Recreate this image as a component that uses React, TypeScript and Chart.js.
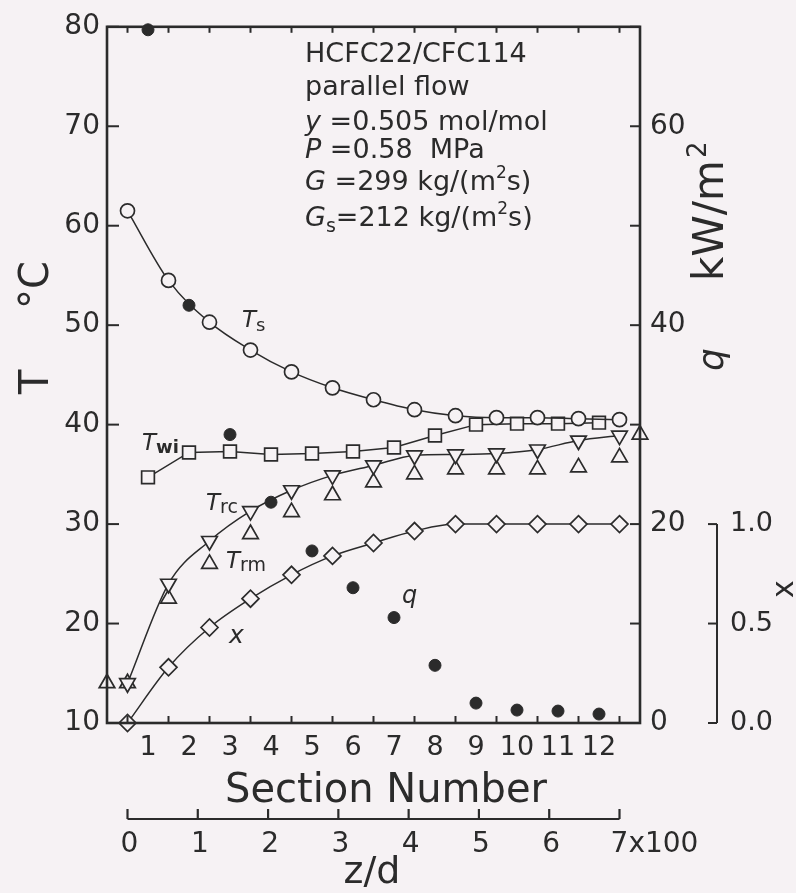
import React, { useEffect, useRef } from 'react';
import { Chart, registerables } from 'chart.js';

Chart.register(...registerables);

// ---------- data ----------
const sectionBoundaries = [0, 1, 2, 3, 4, 5, 6, 7, 8, 9, 10, 11, 12];
const sectionMidpoints = [0.5, 1.5, 2.5, 3.5, 4.5, 5.5, 6.5, 7.5, 8.5, 9.5, 10.5, 11.5];
const sectionLabels = ['1', '2', '3', '4', '5', '6', '7', '8', '9', '10', '11', '12'];
const trmPositions = [-0.5, 0, 1, 2, 3, 4, 5, 6, 7, 8, 9, 10, 11, 12, 12.5];

const tsValues = [61.5, 54.5, 50.3, 47.5, 45.3, 43.7, 42.5, 41.5, 40.9, 40.7, 40.7, 40.6, 40.5];
const twiValues = [34.7, 37.2, 37.3, 37.0, 37.1, 37.3, 37.7, 38.9, 40.0, 40.1, 40.1, 40.2];
const trcValues = [14.0, 24.0, 28.3, 31.3, 33.4, 34.9, 35.9, 36.9, 37.0, 37.1, 37.5, 38.4, 38.9];
const trmValues = [14.0, 14.0, 22.5, 26.0, 29.0, 31.2, 32.9, 34.2, 35.0, 35.5, 35.5, 35.5, 35.7, 36.7, 39.0];
const xValues = [0, 0.28, 0.48, 0.625, 0.745, 0.84, 0.905, 0.965, 1.0, 1.0, 1.0, 1.0, 1.0];
const qValues = [69.7, 42.0, 29.0, 22.2, 17.3, 13.6, 10.6, 5.8, 2.0, 1.3, 1.2, 0.9];

const tTicks = [10, 20, 30, 40, 50, 60, 70, 80];
const qTicks = [0, 10, 20, 30, 40, 50, 60, 70];
const qLabelled = [0, 20, 40, 60];
const xFracTicks = [0, 0.5, 1.0];
const xFracLabels = ['0.0', '0.5', '1.0'];
const zdTicks = [0, 100, 200, 300, 400, 500, 600, 700];
const zdLabels = ['0', '1', '2', '3', '4', '5', '6', '7x100'];
const zdMax = 700;
const sectionCount = 12;

// ---------- style ----------
const INK = '#2b2b2b';
const BG = '#f6f2f4';
const FONT = "'DejaVu Sans', sans-serif";
const W = 796;
const H = 893;

type Run = { t: string; italic?: boolean; bold?: boolean; size?: number; dy?: number };

function drawRuns(ctx: CanvasRenderingContext2D, x: number, y: number, runs: Run[], baseSize: number) {
  let cx = x;
  for (const r of runs) {
    const size = r.size ?? baseSize;
    ctx.font = `${r.italic ? 'italic ' : ''}${r.bold ? 'bold ' : ''}${size}px ${FONT}`;
    ctx.fillText(r.t, cx, y + (r.dy ?? 0));
    cx += ctx.measureText(r.t).width;
  }
}

function line(ctx: CanvasRenderingContext2D, x1: number, y1: number, x2: number, y2: number) {
  ctx.beginPath();
  ctx.moveTo(x1, y1);
  ctx.lineTo(x2, y2);
  ctx.stroke();
}

const decorPlugin = {
  id: 'decor',
  afterDatasetsDraw(chart: any) {
    const { ctx, chartArea } = chart;
    const { left, right, top, bottom } = chartArea;
    const sx = chart.scales.x;
    const sy = chart.scales.y;
    const sq = chart.scales.yq;
    const sxf = chart.scales.yx;
    ctx.save();
    ctx.strokeStyle = INK;
    ctx.fillStyle = INK;
    ctx.lineCap = 'butt';

    // frame
    ctx.lineWidth = 2.6;
    ctx.strokeRect(left, top, right - left, bottom - top);

    // inward ticks
    ctx.lineWidth = 2;
    tTicks.forEach((v) => {
      const py = sy.getPixelForValue(v);
      line(ctx, left, py, left + 12, py);
    });
    qTicks.forEach((v) => {
      const py = sq.getPixelForValue(v);
      line(ctx, right - 10, py, right, py);
    });
    sectionBoundaries.forEach((s) => {
      const px = sx.getPixelForValue(s);
      line(ctx, px, top, px, top + 6);
      line(ctx, px, bottom, px, bottom - 7);
    });

    // x fraction bracket (right)
    const bx = right + 77;
    ctx.lineWidth = 2;
    line(ctx, bx, sxf.getPixelForValue(0), bx, sxf.getPixelForValue(1));
    ctx.font = `27px ${FONT}`;
    ctx.textAlign = 'left';
    ctx.textBaseline = 'middle';
    xFracTicks.forEach((v, i) => {
      const py = sxf.getPixelForValue(v);
      line(ctx, bx - 9, py, bx, py);
      ctx.fillText(xFracLabels[i], bx + 13, py);
    });

    // z/d axis
    const zy = bottom + 96;
    const zx = (v: number) => sx.getPixelForValue((v / zdMax) * sectionCount);
    ctx.lineWidth = 2.2;
    line(ctx, zx(0), zy, zx(zdMax), zy);
    ctx.font = `28px ${FONT}`;
    ctx.textBaseline = 'alphabetic';
    zdTicks.forEach((v, i) => {
      const px = zx(v);
      line(ctx, px, zy, px, zy - 10);
      const lab = zdLabels[i];
      if (i === zdTicks.length - 1) {
        ctx.textAlign = 'left';
        ctx.fillText(lab, px - ctx.measureText('7').width / 2, zy + 33);
      } else {
        ctx.textAlign = 'center';
        ctx.fillText(lab, px + 2, zy + 33);
      }
    });

    // axis titles
    ctx.textAlign = 'center';
    ctx.font = `40px ${FONT}`;
    ctx.fillText('Section Number', 386, 802);
    ctx.font = `38px ${FONT}`;
    ctx.fillText('z/d', 372, 883);

    // rotated left title
    ctx.textAlign = 'left';
    ctx.save();
    ctx.translate(48, 394);
    ctx.rotate(-Math.PI / 2);
    ctx.font = `40px ${FONT}`;
    ctx.fillText('T', 0, 0);
    ctx.restore();
    ctx.save();
    ctx.translate(48, 309);
    ctx.rotate(-Math.PI / 2);
    ctx.font = `40px ${FONT}`;
    ctx.fillText('°C', 0, 0);
    ctx.restore();

    // rotated right title q kW/m2
    ctx.save();
    ctx.translate(723, 371);
    ctx.rotate(-Math.PI / 2);
    ctx.font = `italic 36px ${FONT}`;
    ctx.fillText('q', 0, 0);
    ctx.restore();
    ctx.save();
    ctx.translate(723, 281);
    ctx.rotate(-Math.PI / 2);
    ctx.font = `42px ${FONT}`;
    ctx.fillText('kW/m', 0, 0);
    const wk = ctx.measureText('kW/m').width;
    ctx.font = `26px ${FONT}`;
    ctx.fillText('2', wk + 2, -17);
    ctx.restore();

    // rotated x title
    ctx.save();
    ctx.translate(793, 598);
    ctx.rotate(-Math.PI / 2);
    ctx.font = `30px ${FONT}`;
    ctx.fillText('x', 0, 0);
    ctx.restore();

    // annotation block
    ctx.textAlign = 'left';
    ctx.textBaseline = 'alphabetic';
    const ax = 305;
    drawRuns(ctx, ax, 62, [{ t: 'HCFC22/CFC114' }], 27);
    drawRuns(ctx, ax, 95, [{ t: 'parallel flow' }], 27);
    drawRuns(ctx, ax, 130, [{ t: 'y', italic: true }, { t: ' =0.505 mol/mol' }], 27);
    drawRuns(ctx, ax, 158, [{ t: 'P', italic: true }, { t: ' =0.58  MPa' }], 27);
    drawRuns(ctx, ax, 190, [
      { t: 'G', italic: true },
      { t: ' =299 kg/(m' },
      { t: '2', size: 17, dy: -12 },
      { t: 's)' },
    ], 27);
    drawRuns(ctx, ax, 226, [
      { t: 'G', italic: true },
      { t: 's', size: 19, dy: 6 },
      { t: '=212 kg/(m' },
      { t: '2', size: 17, dy: -12 },
      { t: 's)' },
    ], 27);

    // curve labels
    drawRuns(ctx, 242, 327, [{ t: 'T', italic: true }, { t: 's', size: 18, dy: 4 }], 23);
    drawRuns(ctx, 142, 450, [{ t: 'T', italic: true }, { t: 'wi', size: 18, bold: true, dy: 3 }], 23);
    drawRuns(ctx, 206, 510, [{ t: 'T', italic: true }, { t: 'rc', size: 19, dy: 3 }], 23);
    drawRuns(ctx, 226, 568, [{ t: 'T', italic: true }, { t: 'rm', size: 19, dy: 3 }], 23);
    drawRuns(ctx, 229, 643, [{ t: 'x', italic: true }], 25);
    drawRuns(ctx, 402, 603, [{ t: 'q', italic: true }], 24);

    ctx.restore();
  },
};

export default function App() {
  const canvasRef = useRef<HTMLCanvasElement | null>(null);

  useEffect(() => {
    const canvas = canvasRef.current;
    if (!canvas) return;

    const hollow = {
      borderColor: INK,
      pointBorderColor: INK,
      pointBackgroundColor: BG,
      pointBorderWidth: 1.7,
      borderWidth: 1.5,
      fill: false,
      clip: false as any,
    };

    const chart = new Chart(canvas, {
      type: 'line',
      data: {
        datasets: [
          {
            label: 'q',
            data: sectionMidpoints.map((s, i) => ({ x: s, y: qValues[i] })),
            yAxisID: 'yq',
            showLine: false,
            pointStyle: 'circle',
            pointRadius: 6,
            pointBackgroundColor: INK,
            pointBorderColor: INK,
            pointBorderWidth: 1,
            clip: false as any,
          },
          {
            label: 'Ts',
            data: sectionBoundaries.map((s, i) => ({ x: s, y: tsValues[i] })),
            yAxisID: 'y',
            pointStyle: 'circle',
            pointRadius: 7,
            cubicInterpolationMode: 'monotone',
            ...hollow,
          },
          {
            label: 'Twi',
            data: sectionMidpoints.map((s, i) => ({ x: s, y: twiValues[i] })),
            yAxisID: 'y',
            pointStyle: 'rect',
            pointRadius: 9,
            tension: 0,
            ...hollow,
          },
          {
            label: 'Trc',
            data: sectionBoundaries.map((s, i) => ({ x: s, y: trcValues[i] })),
            yAxisID: 'y',
            pointStyle: 'triangle',
            pointRotation: 180,
            pointRadius: 9,
            cubicInterpolationMode: 'monotone',
            ...hollow,
          },
          {
            label: 'Trm',
            data: trmPositions.map((s, i) => ({ x: s, y: trmValues[i] })),
            yAxisID: 'y',
            showLine: false,
            pointStyle: 'triangle',
            pointRadius: 9,
            ...hollow,
            pointBackgroundColor: 'rgba(0,0,0,0)',
          },
          {
            label: 'x',
            data: sectionBoundaries.map((s, i) => ({ x: s, y: xValues[i] })),
            yAxisID: 'yx',
            pointStyle: 'rectRot',
            pointRadius: 8.5,
            cubicInterpolationMode: 'monotone',
            ...hollow,
          },
        ],
      },
      options: {
        animation: false,
        responsive: false,
        events: [],
        layout: { padding: { top: 22, left: 0, right: 0, bottom: 0 } },
        plugins: {
          legend: { display: false },
          tooltip: { enabled: false },
          title: { display: false },
        },
        scales: {
          x: {
            type: 'linear',
            position: 'bottom',
            min: -0.5,
            max: 12.5,
            grid: { display: false, drawTicks: false },
            border: { display: false },
            afterBuildTicks: (s: any) => {
              s.ticks = sectionMidpoints.map((v) => ({ value: v }));
            },
            afterFit: (s: any) => {
              s.height = H - 723;
            },
            ticks: {
              autoSkip: false,
              maxRotation: 0,
              padding: 9,
              color: INK,
              font: { family: FONT, size: 27 },
              callback: (v: any) => {
                const k = sectionMidpoints.indexOf(Number(v));
                return k >= 0 ? sectionLabels[k] : '';
              },
            },
          },
          y: {
            type: 'linear',
            position: 'left',
            min: 10,
            max: 80,
            grid: { display: false, drawTicks: false },
            border: { display: false },
            afterBuildTicks: (s: any) => {
              s.ticks = tTicks.map((v) => ({ value: v }));
            },
            afterFit: (s: any) => {
              s.width = 107;
            },
            ticks: {
              autoSkip: false,
              padding: 7,
              color: INK,
              font: { family: FONT, size: 28 },
            },
          },
          yq: {
            type: 'linear',
            position: 'right',
            min: 0,
            max: 70,
            grid: { display: false, drawTicks: false },
            border: { display: false },
            afterBuildTicks: (s: any) => {
              s.ticks = qTicks.map((v) => ({ value: v }));
            },
            afterFit: (s: any) => {
              s.width = W - 640;
            },
            ticks: {
              autoSkip: false,
              padding: 10,
              color: INK,
              font: { family: FONT, size: 28 },
              callback: (v: any) => (qLabelled.includes(Number(v)) ? String(v) : ''),
            },
          },
          yx: {
            type: 'linear',
            display: false,
            min: 0,
            max: 3.5,
          },
        },
      },
      plugins: [decorPlugin],
    } as any);

    return () => {
      chart.destroy();
    };
  }, []);

  return (
    <div
      style={{
        position: 'absolute',
        left: 0,
        top: 0,
        width: W,
        height: H,
        background: BG,
      }}
    >
      <canvas ref={canvasRef} width={W} height={H} style={{ display: 'block' }} />
    </div>
  );
}
